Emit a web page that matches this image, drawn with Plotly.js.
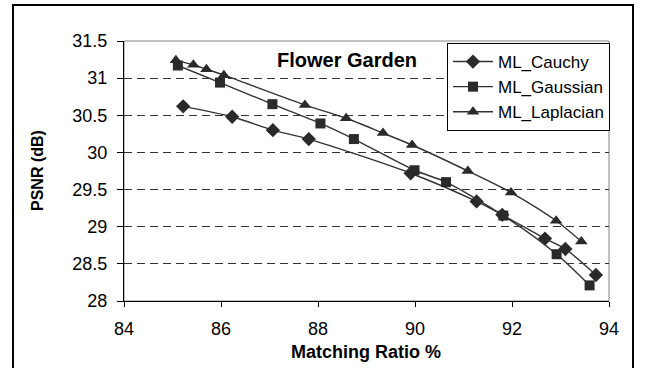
<!DOCTYPE html>
<html>
<head>
<meta charset="utf-8">
<script src="https://cdn.plot.ly/plotly-3.0.1.min.js"></script>
<style>html,body{margin:0;padding:0;background:#fff;}#chart{width:649px;height:368px;}</style>
</head>
<body>
<div id="chart"></div>
<script>
// Data
var seriesNames = ["ML_Cauchy", "ML_Gaussian", "ML_Laplacian"];
var cauchyX = [85.22, 86.23, 87.07, 87.81, 89.91, 91.27, 91.80, 92.68, 93.10, 93.73];
var cauchyY = [30.62, 30.48, 30.30, 30.18, 29.72, 29.34, 29.16, 28.84, 28.70, 28.35];
var gaussX = [85.11, 85.98, 87.06, 88.05, 88.74, 89.99, 90.64, 91.82, 92.92, 93.60];
var gaussY = [31.17, 30.94, 30.65, 30.39, 30.18, 29.76, 29.60, 29.15, 28.63, 28.21];
var lapX = [85.07, 85.43, 85.70, 86.06, 87.73, 88.58, 89.34, 89.94, 91.09, 91.98, 92.91, 93.43];
var lapY = [31.24, 31.18, 31.12, 31.04, 30.64, 30.46, 30.26, 30.10, 29.75, 29.46, 29.08, 28.80];
var xTicks = [84, 86, 88, 90, 92, 94];
var yTicks = [28, 28.5, 29, 29.5, 30, 30.5, 31, 31.5];
var chartTitle = "Flower Garden";
var xTitle = "Matching Ratio %";
var yTitle = "PSNR (dB)";

var FONT = "Liberation Sans, Arial, Helvetica, sans-serif";
var lineColor = "#333333";
var markerColor = "#2a2a2a";

function mk(name, xs, ys, sym, size) {
  return {
    type: "scatter", mode: "lines+markers", name: name, x: xs, y: ys,
    line: {color: lineColor, width: 1.4, shape: "spline", smoothing: 0.8},
    marker: {symbol: sym, size: size, color: markerColor, line: {width: 0}}
  };
}

var data = [
  mk(seriesNames[0], cauchyX, cauchyY, "diamond", 11),
  mk(seriesNames[1], gaussX, gaussY, "square", 10),
  mk(seriesNames[2], lapX, lapY, "triangle-up", 11)
];

var PL = 124, PR = 609, PT = 41, PB = 301;
function px(v) { return (v - PL) / (PR - PL); }
function py(v) { return (PB - v) / (PB - PT); }

var layout = {
  width: 649, height: 368,
  margin: {l: PL, r: 649 - PR, t: PT, b: 368 - PB, pad: 0},
  paper_bgcolor: "#ffffff", plot_bgcolor: "#ffffff",
  font: {family: FONT, color: "#000"},
  showlegend: true,
  legend: {
    x: px(447), y: py(43), xanchor: "left", yanchor: "top",
    bgcolor: "#ffffff", bordercolor: "#000", borderwidth: 1,
    font: {family: FONT, size: 17, color: "#000"},
    itemwidth: 40, tracegroupgap: 0
  },
  xaxis: {
    range: [84, 94], tickvals: xTicks, ticktext: xTicks.map(String),
    showgrid: false, zeroline: false,
    showline: true, linecolor: "#000", linewidth: 1,
    ticks: "outside", ticklen: 5, tickcolor: "#000", tickwidth: 1,
    tickfont: {family: FONT, size: 18, color: "#000"},
    ticklabelstandoff: 6,
    title: {text: ""}
  },
  yaxis: {
    range: [28, 31.5], tickvals: yTicks, ticktext: yTicks.map(function(v){return String(v);}),
    showgrid: true, gridcolor: "#333333", gridwidth: 1, griddash: "8px,5px",
    zeroline: false,
    showline: true, linecolor: "#000", linewidth: 1,
    ticks: "outside", ticklen: 6, tickcolor: "#000", tickwidth: 1,
    tickfont: {family: FONT, size: 18, color: "#000"},
    ticklabelstandoff: 6,
    title: {text: ""}
  },
  shapes: [
    {type: "rect", xref: "paper", yref: "paper", x0: 0, x1: 1, y0: 0, y1: 1,
     line: {color: "#808080", width: 1}, layer: "below"},
    {type: "rect", xref: "paper", yref: "paper", x0: px(13), x1: px(633), y0: py(5), y1: py(380),
     line: {color: "#000", width: 2}}
  ],
  annotations: [
    {text: "<b>" + chartTitle + "</b>", xref: "paper", yref: "paper", x: px(347), y: py(60),
     xanchor: "center", yanchor: "middle", showarrow: false,
     font: {family: FONT, size: 20, color: "#000"}},
    {text: "<b>" + xTitle + "</b>", xref: "paper", yref: "paper", x: px(366), y: py(352),
     xanchor: "center", yanchor: "middle", showarrow: false,
     font: {family: FONT, size: 18, color: "#000"}},
    {text: "<b>" + yTitle + "</b>", xref: "paper", yref: "paper", x: px(37), y: py(171),
     xanchor: "center", yanchor: "middle", showarrow: false, textangle: -90,
     font: {family: FONT, size: 16, color: "#000"}}
  ]
};

Plotly.newPlot("chart", data, layout, {displayModeBar: false, staticPlot: true});
</script>
</body>
</html>
